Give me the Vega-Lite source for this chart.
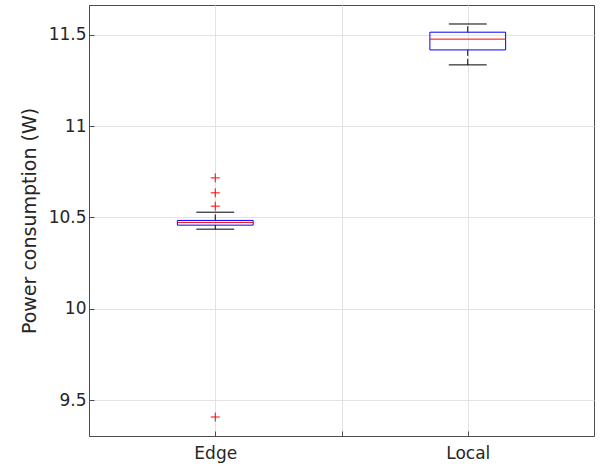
{
  "$schema": "https://vega.github.io/schema/vega-lite/v6.json",
  "autosize": "none",
  "width": 505,
  "height": 431,
  "padding": {"left": 89, "top": 5, "right": 6, "bottom": 32},
  "background": "white",
  "config": {
    "font": "DejaVu Sans",
    "view": {"stroke": "#4d4d4d", "strokeWidth": 1},
    "axis": {
      "labelFont": "DejaVu Sans",
      "titleFont": "DejaVu Sans",
      "labelColor": "#262626",
      "titleColor": "#262626",
      "labelFontSize": 17,
      "titleFontSize": 19,
      "titleFontWeight": "normal",
      "gridColor": "#e3e3e3",
      "gridWidth": 1,
      "domainColor": "#4d4d4d",
      "tickColor": "#4d4d4d",
      "tickSize": -5
    }
  },
  "datasets": {
    "boxes": [
      {"group": "Edge", "lower": 10.436, "q1": 10.458, "median": 10.473, "q3": 10.484, "upper": 10.529},
      {"group": "Local", "lower": 11.336, "q1": 11.418, "median": 11.477, "q3": 11.515, "upper": 11.560}
    ],
    "outliers": [
      {"group": "Edge", "value": 10.717},
      {"group": "Edge", "value": 10.635},
      {"group": "Edge", "value": 10.562},
      {"group": "Edge", "value": 9.407}
    ]
  },
  "layer": [
    {
      "data": {"name": "boxes"},
      "transform": [
        {"calculate": "datum.group === 'Edge' ? 1 : 2", "as": "idx"},
        {"calculate": "datum.idx - 0.15", "as": "lo"},
        {"calculate": "datum.idx + 0.15", "as": "hi"},
        {"calculate": "datum.idx - 0.075", "as": "clo"},
        {"calculate": "datum.idx + 0.075", "as": "chi"}
      ],
      "layer": [
        {
          "mark": {"type": "rule", "color": "#000000", "strokeWidth": 1, "strokeDash": [6, 3]},
          "encoding": {
            "x": {"field": "idx", "type": "quantitative", "scale": {"domain": [0.5, 2.5], "nice": false, "zero": false},
              "axis": {"title": null, "values": [1, 1.5, 2], "labelExpr": "datum.value == 1 ? 'Edge' : datum.value == 2 ? 'Local' : ''", "labelPadding": 14, "grid": true}},
            "y": {"field": "q3", "type": "quantitative", "scale": {"domain": [9.303, 11.664], "nice": false, "zero": false},
              "axis": {"title": "Power consumption (W)", "values": [9.5, 10, 10.5, 11, 11.5], "format": "~g", "labelPadding": 8, "titlePadding": 9, "grid": true}},
            "y2": {"field": "upper"}
          }
        },
        {
          "mark": {"type": "rule", "color": "#000000", "strokeWidth": 1, "strokeDash": [6, 3]},
          "encoding": {
            "x": {"field": "idx", "type": "quantitative"},
            "y": {"field": "lower", "type": "quantitative"},
            "y2": {"field": "q1"}
          }
        },
        {
          "mark": {"type": "rule", "color": "#000000", "strokeWidth": 1},
          "encoding": {
            "x": {"field": "clo", "type": "quantitative"},
            "x2": {"field": "chi"},
            "y": {"field": "upper", "type": "quantitative"}
          }
        },
        {
          "mark": {"type": "rule", "color": "#000000", "strokeWidth": 1},
          "encoding": {
            "x": {"field": "clo", "type": "quantitative"},
            "x2": {"field": "chi"},
            "y": {"field": "lower", "type": "quantitative"}
          }
        },
        {
          "mark": {"type": "rect", "fill": null, "stroke": "#0000ff", "strokeWidth": 1},
          "encoding": {
            "x": {"field": "lo", "type": "quantitative"},
            "x2": {"field": "hi"},
            "y": {"field": "q1", "type": "quantitative"},
            "y2": {"field": "q3"}
          }
        },
        {
          "mark": {"type": "rule", "color": "#ff0000", "strokeWidth": 1},
          "encoding": {
            "x": {"field": "lo", "type": "quantitative"},
            "x2": {"field": "hi"},
            "y": {"field": "median", "type": "quantitative"}
          }
        }
      ]
    },
    {
      "data": {"name": "outliers"},
      "transform": [
        {"calculate": "datum.group === 'Edge' ? 1 : 2", "as": "idx"}
      ],
      "mark": {"type": "point", "shape": "M-1,0H1M0,-1V1", "filled": false, "stroke": "#ff0000", "strokeWidth": 1, "size": 81, "opacity": 1},
      "encoding": {
        "x": {"field": "idx", "type": "quantitative"},
        "y": {"field": "value", "type": "quantitative"}
      }
    }
  ]
}
